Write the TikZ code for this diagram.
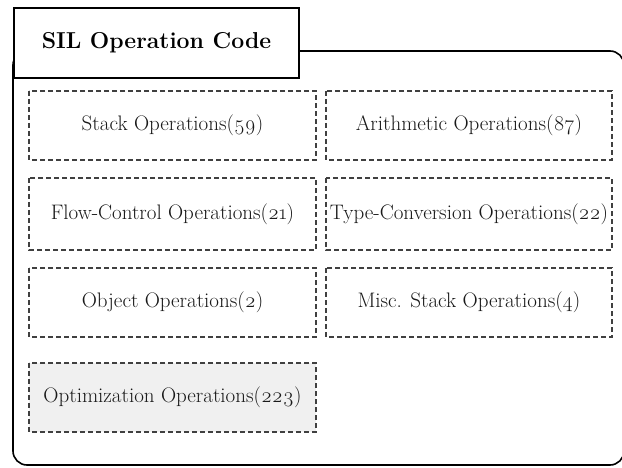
\documentclass[tikz,border=0pt]{standalone}
\usepackage{fontspec}
\setmainfont{Latin Modern Roman}
\begin{document}
\begin{tikzpicture}[x=1pt,y=-1pt,
  outerbox/.style={draw=black,line width=1.6pt,rounded corners=14pt},
  titlebox/.style={draw=black,line width=2pt,fill=white},
  opbox/.style={draw=black!75,line width=1.3pt,dash pattern=on 5pt off 3pt,inner sep=0pt},
  optext/.style={font=\fontsize{21}{24}\selectfont,text=black!90}]
\useasboundingbox (0,0) rectangle (622,468);
\fill[white] (0,0) rectangle (622,468);
\draw[outerbox] (13,51) rectangle (624,465);
\node[titlebox,minimum width=285pt,minimum height=70pt,anchor=north west,inner sep=0pt] (title) at (13,7)
  {\fontsize{23}{26}\selectfont\bfseries SIL Operation Code};
% row 1
\draw[opbox] (29,91) rectangle (316,160);
\node[optext] (stack) at (172.5,125.5) {Stack Operations(\oldstylenums{59})};
\draw[opbox] (326,91) rectangle (612,160);
\node[optext] (arith) at (469,125.5) {Arithmetic Operations(\oldstylenums{87})};
% row 2
\draw[opbox] (29,178) rectangle (316,250);
\node[optext] (flow) at (172.5,214) {Flow-Control Operations(\oldstylenums{21})};
\draw[opbox] (326,178) rectangle (612,250);
\node[optext] (type) at (469,214) {Type-Conversion Operations(\oldstylenums{22})};
% row 3
\draw[opbox] (29,268) rectangle (316,337);
\node[optext] (obj) at (172.5,302.5) {Object Operations(\oldstylenums{2})};
\draw[opbox] (326,268) rectangle (612,337);
\node[optext] (misc) at (469,302.5) {Misc. Stack Operations(\oldstylenums{4})};
% row 4
\draw[opbox,fill=black!6] (29,363) rectangle (316,432);
\node[optext] (opt) at (172.5,397.5) {Optimization Operations(\oldstylenums{223})};
\end{tikzpicture}
\end{document}
